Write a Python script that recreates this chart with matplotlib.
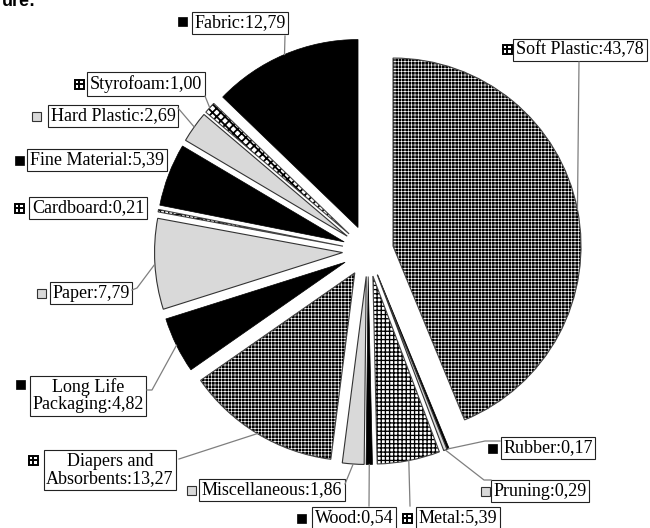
import numpy as np
import matplotlib
matplotlib.use("Agg")
import matplotlib.pyplot as plt
from matplotlib.patches import Wedge, Rectangle

plt.rcParams['font.family'] = ['Liberation Serif', 'DejaVu Serif']

# slices, clockwise from 12 o'clock
labels = ['Soft Plastic', 'Rubber', 'Pruning', 'Metal', 'Wood', 'Miscellaneous',
          'Diapers and\nAbsorbents', 'Long Life\nPackaging', 'Paper', 'Cardboard',
          'Fine Material', 'Hard Plastic', 'Styrofoam', 'Fabric']
values = [43.78, 0.17, 0.29, 5.39, 0.54, 1.86, 13.27, 4.82, 7.79, 0.21,
          5.39, 2.69, 1.00, 12.79]
value_text = ['43,78', '0,17', '0,29', '5,39', '0,54', '1,86', '13,27', '4,82',
              '7,79', '0,21', '5,39', '2,69', '1,00', '12,79']
fills = ['fine', 'black', 'gray', 'grid', 'black', 'gray', 'fine', 'black',
         'gray', 'grid', 'black', 'gray', 'diag', 'black']

# label layout in picture pixels: text centre, key square centre, leader start (or None)
text_xy = [(580, 50), (548, 448), (540, 491), (458, 518), (354, 518), (272, 490),
           (110, 470), (88, 396), (91, 293), (88, 208), (97, 160), (113, 116),
           (146, 84), (240, 23)]
key_xy = [(507, 49), (492, 448), (485, 491), (407, 518), (301, 518), (191, 490),
          (33, 460), (20, 384), (41, 293), (19, 208), (19, 160), (36, 116),
          (79, 84), (182, 21)]
leader_from = [[(579, 62)], [(500, 441), (485, 441)], [(491, 480), (484, 480)],
               [(410, 506)], [(369, 506)], [(345, 484)], [(179, 459)],
               [(147, 390), (152, 390)], [(132, 290), (137, 288)], None, None,
               [(178, 108)], [(205, 96)], [(285, 36)]]

W, H = 650, 528
Y = lambda y: H - y

fig = plt.figure(figsize=(6.5, 5.28), dpi=100)
ax = fig.add_axes([0, 0, 1, 1])

R = 188
cx, cy = 368, Y(251)
# explode is in data units (pixels here)
wedges, _ = ax.pie(values, explode=[25.5] * len(values), startangle=90,
                   counterclock=False, radius=R, center=(cx, cy),
                   wedgeprops=dict(linewidth=0))


def set_hlw(p, lw):
    f = getattr(p, 'set_hatch_linewidth', None)
    if f is not None:
        f(lw)


for w, f in zip(wedges, fills):
    if f == 'black':
        w.set_facecolor('black')
        w.set_edgecolor('black')
        w.set_linewidth(0.5)
    elif f == 'gray':
        w.set_facecolor('#d9d9d9')
        w.set_edgecolor('#333333')
        w.set_linewidth(0.8)
    else:
        if f == 'fine':
            w.set_facecolor('black')
            w.set_edgecolor('white')
            w.set_hatch('+++++')
            set_hlw(w, 0.45)
        elif f == 'grid':
            w.set_facecolor('white')
            w.set_edgecolor('black')
            w.set_hatch('++++')
            set_hlw(w, 0.95)
        else:
            w.set_facecolor('white')
            w.set_edgecolor('black')
            w.set_hatch('xxxx')
            set_hlw(w, 1.3)
        w.set_linewidth(0)
        ax.add_patch(Wedge(w.center, w.r, w.theta1, w.theta2, fill=False,
                           ec='#444444', lw=0.8))

# labels, keys and leader lines
for i, w in enumerate(wedges):
    tx, ty = text_xy[i]
    ax.text(tx, Y(ty), labels[i] + ':' + value_text[i],
            ha='center', va='center', fontsize=13, linespacing=1.0,
            multialignment='center',
            bbox=dict(boxstyle='square,pad=0.15', fc='white', ec='#222222', lw=0.8))
    kx, ky = key_xy[i]
    s = 9
    if fills[i] == 'black':
        ax.add_patch(Rectangle((kx - s / 2, Y(ky) - s / 2), s, s, fc='black', ec='black', lw=0.5))
    elif fills[i] == 'gray':
        ax.add_patch(Rectangle((kx - s / 2, Y(ky) - s / 2), s, s, fc='#d9d9d9', ec='#333333', lw=0.8))
    else:
        ax.add_patch(Rectangle((kx - s / 2, Y(ky) - s / 2), s, s, fc='white', ec='black', lw=1.4))
        ax.plot([kx - s / 2, kx + s / 2], [Y(ky), Y(ky)], color='black', lw=1.4)
        ax.plot([kx, kx], [Y(ky) - s / 2, Y(ky) + s / 2], color='black', lw=1.4)

    if leader_from[i] is not None:
        mid = np.deg2rad((w.theta1 + w.theta2) / 2)
        ex = w.center[0] + w.r * np.cos(mid)
        ey = w.center[1] + w.r * np.sin(mid)
        xs = [p[0] for p in leader_from[i]] + [ex]
        ys = [Y(p[1]) for p in leader_from[i]] + [ey]
        ax.plot(xs, ys, color='#7f7f7f', lw=0.9, zorder=3)

# clipped heading above the chart
ax.text(2, Y(6), 'ure:', fontsize=13, fontweight='bold', family=['Liberation Sans'],
        ha='left', va='baseline')

ax.set_xlim(0, W)
ax.set_ylim(0, H)
ax.set_aspect('equal')
ax.axis('off')

fig.savefig('out.png', dpi=100)
